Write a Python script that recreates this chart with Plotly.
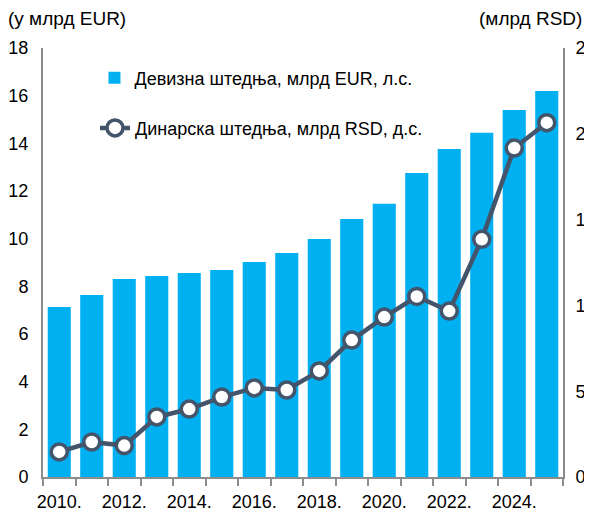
import plotly.graph_objects as go

years = list(range(2010, 2026))
fx_savings_eur = [7.13, 7.64, 8.31, 8.43, 8.56, 8.69, 9.02, 9.40, 9.99, 10.83, 11.46, 12.76, 13.76, 14.44, 15.40, 16.20]
dinar_savings_rsd = [14.6, 20.4, 18.3, 35.0, 39.6, 46.6, 51.9, 50.7, 61.8, 79.8, 93.2, 105.2, 96.7, 138.5, 191.7, 206.5]
tick_years = [2010, 2012, 2014, 2016, 2018, 2020, 2022, 2024]
tick_labels = [f"{y}." for y in tick_years]
name_bar = "Девизна штедња, млрд EUR, л.с."
name_line = "Динарска штедња, млрд RSD, д.с."

FONT = "Liberation Sans Narrow, Arial Narrow, Liberation Sans, Arial, sans-serif"
AX = "#8c8c8c"

fig = go.Figure()
fig.add_trace(go.Bar(
    x=years, y=fx_savings_eur, name=name_bar,
    marker=dict(color="#00B0F0", line=dict(width=0)),
    width=0.71, legend="legend",
))
fig.add_trace(go.Scatter(
    x=years, y=dinar_savings_rsd, name=name_line, yaxis="y2",
    mode="lines+markers",
    line=dict(color="#44546A", width=4.5),
    marker=dict(size=16, color="white", line=dict(color="#44546A", width=3.5)),
    legend="legend2",
))

fig.update_layout(
    width=584, height=505,
    margin=dict(l=35, r=29, t=40, b=36),
    paper_bgcolor="white", plot_bgcolor="white",
    font=dict(family=FONT, size=18, color="black"),
    showlegend=True,
    bargap=0.29,
    xaxis=dict(
        range=[2009.5, 2025.5],
        tickvals=tick_years, ticktext=tick_labels,
        ticks="", showgrid=False, zeroline=False,
        showline=True, linecolor=AX, linewidth=2,
        minor=dict(tickvals=[y - 0.5 for y in years] + [2025.5], ticks="outside",
                   ticklen=7, tickcolor=AX, tickwidth=2, showgrid=False),
        tickfont=dict(size=18), ticklabelstandoff=7, automargin=False,
    ),
    yaxis=dict(
        range=[0, 18], dtick=2, showgrid=False, zeroline=False,
        showline=True, linecolor=AX, linewidth=2, ticks="",
        tickfont=dict(size=18), ticklabelstandoff=9, automargin=False,
    ),
    yaxis2=dict(
        range=[0, 250], dtick=50, overlaying="y", side="right",
        showgrid=False, zeroline=False,
        showline=True, linecolor=AX, linewidth=2, ticks="",
        tickfont=dict(size=18), ticklabelstandoff=7, automargin=False,
    ),
    legend=dict(x=0.099, y=0.93, xanchor="left", yanchor="middle",
                bgcolor="rgba(0,0,0,0)", font=dict(size=18)),
    legend2=dict(x=0.10, y=0.813, xanchor="left", yanchor="middle",
                 bgcolor="rgba(0,0,0,0)", font=dict(size=18)),
    annotations=[
        dict(text="(у млрд EUR)", xref="paper", yref="paper", x=-0.071, y=1.0,
             yshift=30, xanchor="left", yanchor="middle", showarrow=False,
             font=dict(size=19)),
        dict(text="(млрд RSD)", xref="paper", yref="paper", x=1.04, y=1.0,
             yshift=30, xanchor="right", yanchor="middle", showarrow=False,
             font=dict(size=19)),
    ],
)

fig.write_html("out.html")
